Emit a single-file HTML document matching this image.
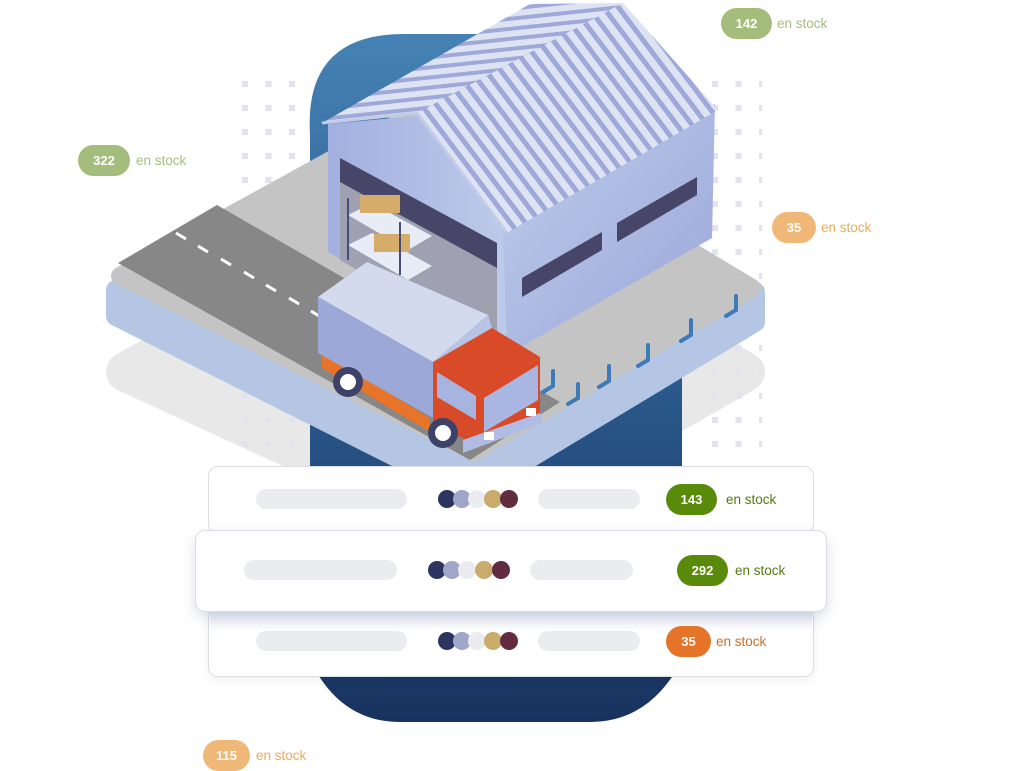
<!DOCTYPE html>
<html><head><meta charset="utf-8">
<style>
html,body{margin:0;padding:0;background:#fff;}
body{width:1015px;height:771px;position:relative;overflow:hidden;font-family:"Liberation Sans",sans-serif;}
svg{position:absolute;left:0;top:0;}
.card{position:absolute;background:#fff;border:1px solid #dcdde3;border-radius:10px;box-sizing:border-box;}
.pill{position:absolute;height:20px;border-radius:10px;background:#ebecef;}
.dot{position:absolute;width:18px;height:18px;border-radius:50%;}
.badge{position:absolute;height:31px;border-radius:16px;color:#fff;font-weight:bold;font-size:13px;line-height:31px;text-align:center;}
.lbl{position:absolute;font-size:13.5px;line-height:16px;}
</style></head><body>
<svg width="1015" height="771" viewBox="0 0 1015 771">
<defs>
<linearGradient id="bg" x1="0" y1="0" x2="0" y2="1">
<stop offset="0" stop-color="#4682b4"/><stop offset="0.5" stop-color="#2a5a8c"/><stop offset="1" stop-color="#18325e"/></linearGradient>
<pattern id="dots" width="23.5" height="24" patternUnits="userSpaceOnUse" x="242" y="81">
<rect x="0" y="0" width="6" height="6" fill="#e2e2f0"/></pattern>
<pattern id="sL" width="10" height="10" patternUnits="userSpaceOnUse" patternTransform="rotate(-6)">
<rect width="10" height="10" fill="#dde3f3"/><rect width="10" height="4" fill="#9ea9da"/></pattern>
<pattern id="sR" width="12" height="12" patternUnits="userSpaceOnUse" patternTransform="rotate(53)">
<rect width="12" height="12" fill="#dde3f3"/><rect width="12" height="5" fill="#9ea9da"/></pattern>
<linearGradient id="wallR" x1="0" y1="0" x2="1" y2="1"><stop offset="0" stop-color="#bfcdec"/><stop offset="1" stop-color="#9aa6d8"/></linearGradient>
<linearGradient id="wallL" x1="0" y1="0" x2="1" y2="0"><stop offset="0" stop-color="#a3b0e0"/><stop offset="1" stop-color="#bccaea"/></linearGradient>
</defs>
<!-- shadow -->
<path d="M126 372 L440 195 L745 372 L470 530 Z" fill="#e8e8e8" stroke="#e8e8e8" stroke-width="40" stroke-linejoin="round"/>
<path d="M404 34 H582 Q682 34 682 134 V660 Q650 722 590 722 H400 Q340 722 310 660 V134 Q304 34 404 34Z" fill="url(#bg)"/>
<rect x="242" y="81" width="60" height="370" fill="url(#dots)"/>
<rect x="702" y="81" width="60" height="370" fill="url(#dots)"/>
<!-- platform side -->
<path d="M116 290 L116 316 L470 494 L755 322 L755 292 L470 462 Z" fill="#b4c6e4" stroke="#b4c6e4" stroke-width="20" stroke-linejoin="round"/>
<!-- platform top -->
<path d="M120 276 L440 100 L752 288 L474 452 Z" fill="#c4c4c4" stroke="#c4c4c4" stroke-width="18" stroke-linejoin="round"/>
<path d="M118 263 L217 205 L560 402 L470 460 Z" fill="#878787"/>
<g stroke="#fff" stroke-width="3">
<line x1="176" y1="233" x2="186" y2="239"/><line x1="198" y1="246" x2="208" y2="252"/><line x1="221" y1="259" x2="231" y2="265"/><line x1="244" y1="272" x2="254" y2="278"/><line x1="266" y1="285" x2="276" y2="291"/><line x1="289" y1="298" x2="299" y2="304"/><line x1="311" y1="311" x2="319" y2="316"/>
</g>
<path d="M328 124 L417 116 L507 230 L507 355 L328 252 Z" fill="url(#wallL)"/>
<path d="M503 228 L715 104 L712 238 L507 355 Z" fill="url(#wallR)"/>
<path d="M340 158 L497 243 L497 350 L340 260 Z" fill="#a0a1b0"/>
<path d="M340 158 L497 243 L497 268 L340 182 Z" fill="#474668"/>
<g>
<path d="M348 215 L372 203 L432 236 L408 250 Z" fill="#e8ecf6"/>
<path d="M348 245 L372 233 L432 266 L408 280 Z" fill="#e8ecf6"/>
<rect x="360" y="195" width="40" height="18" fill="#d5ac6a"/>
<rect x="374" y="234" width="36" height="18" fill="#d5ac6a"/>
<line x1="348" y1="198" x2="348" y2="260" stroke="#45507a" stroke-width="2"/>
<line x1="400" y1="222" x2="400" y2="275" stroke="#45507a" stroke-width="2"/>
</g>
<path d="M522 278 L602 232 L602 250 L522 297 Z" fill="#474668"/>
<path d="M617 223 L697 177 L697 195 L617 242 Z" fill="#474668"/>
<path d="M322 123 L417 113 L623 3 L530 4 Z" fill="url(#sL)"/>
<path d="M417 113 L623 3 L718 110 L507 233 Z" fill="url(#sR)"/>
<path d="M322 123 L417 113 L507 233" fill="none" stroke="#c4cbe6" stroke-width="3"/>
<g stroke="#3f7ab8" stroke-width="4" stroke-linecap="round" fill="none">
<path d="M553 371 L553 386 L543 392"/><path d="M578 384 L578 398 L568 404"/><path d="M609 366 L609 381 L599 387"/><path d="M648 345 L648 360 L638 366"/><path d="M691 320 L691 335 L681 341"/><path d="M736 296 L736 310 L726 316"/>
</g>
<path d="M322 353 L430 418 L430 432 L322 368 Z" fill="#e8742a"/>
<path d="M318 297 L367 262 L488 315 L433 362 Z" fill="#d4daee"/>
<path d="M318 297 L433 362 L433 418 L318 353 Z" fill="#9ba8d8"/>
<path d="M433 362 L488 315 L492 328 L492 380 L433 418 Z" fill="#b8c4e6"/>
<path d="M433 362 L492 328 L540 357 L480 393 Z" fill="#d94a28"/>
<path d="M433 362 L480 393 L480 447 L433 423 Z" fill="#d94a28"/>
<path d="M480 393 L540 357 L540 413 L480 447 Z" fill="#d94a28"/>
<path d="M437 372 L476 396 L476 420 L437 397 Z" fill="#a8b4e0"/>
<path d="M484 398 L538 365 L538 400 L484 432 Z" fill="#aab6e2"/>
<path d="M463 440 L540 413 L543 423 L463 453 Z" fill="#b0bce4"/>
<rect x="484" y="432" width="10" height="8" fill="#fff"/><rect x="526" y="408" width="10" height="8" fill="#fff"/>
<circle cx="348" cy="382" r="15" fill="#3e4168"/><circle cx="348" cy="382" r="8" fill="#fff"/>
<circle cx="443" cy="433" r="15" fill="#3e4168"/><circle cx="443" cy="433" r="8" fill="#fff"/>
</svg>

<div class="card" style="left:208px;top:466px;width:606px;height:68px;"></div>
<div class="card" style="left:208px;top:605px;width:606px;height:72px;box-shadow:0 4px 10px rgba(0,0,0,0.06);"></div>
<div style="position:absolute;left:210px;top:600px;width:602px;height:30px;background:linear-gradient(#d5dbe9,#fff);"></div>
<div class="card" style="left:195px;top:530px;width:632px;height:82px;box-shadow:0 6px 14px rgba(120,130,170,0.25);"></div>

<div class="pill" style="left:256px;top:489px;width:151px;"></div>
<div class="dot" style="left:438px;top:490px;background:#2c3560"></div>
<div class="dot" style="left:453px;top:490px;background:#a0a6c8"></div>
<div class="dot" style="left:468px;top:490px;background:#ebecef"></div>
<div class="dot" style="left:484px;top:490px;background:#c9ac6c"></div>
<div class="dot" style="left:500px;top:490px;background:#632b3e"></div>
<div class="pill" style="left:538px;top:489px;width:102px;"></div>
<div class="badge" style="left:666px;top:484px;width:51px;background:#5a8a0a">143</div>
<div class="lbl" style="left:726px;top:492px;color:#55790e">en stock</div>

<div class="pill" style="left:244px;top:560px;width:153px;"></div>
<div class="dot" style="left:428px;top:561px;background:#2c3560"></div>
<div class="dot" style="left:443px;top:561px;background:#a0a6c8"></div>
<div class="dot" style="left:458px;top:561px;background:#ebecef"></div>
<div class="dot" style="left:475px;top:561px;background:#c9ac6c"></div>
<div class="dot" style="left:492px;top:561px;background:#632b3e"></div>
<div class="pill" style="left:530px;top:560px;width:103px;"></div>
<div class="badge" style="left:677px;top:555px;width:51px;background:#5a8a0a">292</div>
<div class="lbl" style="left:735px;top:563px;color:#55790e">en stock</div>

<div class="pill" style="left:256px;top:631px;width:151px;"></div>
<div class="dot" style="left:438px;top:632px;background:#2c3560"></div>
<div class="dot" style="left:453px;top:632px;background:#a0a6c8"></div>
<div class="dot" style="left:468px;top:632px;background:#ebecef"></div>
<div class="dot" style="left:484px;top:632px;background:#c9ac6c"></div>
<div class="dot" style="left:500px;top:632px;background:#632b3e"></div>
<div class="pill" style="left:538px;top:631px;width:102px;"></div>
<div class="badge" style="left:666px;top:626px;width:45px;background:#e57328">35</div>
<div class="lbl" style="left:716px;top:634px;color:#c8702a">en stock</div>

<div class="badge" style="left:721px;top:8px;width:51px;background:#a5bd7c">142</div>
<div class="lbl" style="left:777px;top:16px;color:#a5bd7c">en stock</div>
<div class="badge" style="left:78px;top:145px;width:52px;background:#a5bd7c">322</div>
<div class="lbl" style="left:136px;top:153px;color:#a5bd7c">en stock</div>
<div class="badge" style="left:772px;top:212px;width:44px;background:#f0b878">35</div>
<div class="lbl" style="left:821px;top:220px;color:#ecaa60">en stock</div>
<div class="badge" style="left:203px;top:740px;width:47px;background:#f0b878">115</div>
<div class="lbl" style="left:256px;top:748px;color:#ecaa60">en stock</div>
</body></html>
